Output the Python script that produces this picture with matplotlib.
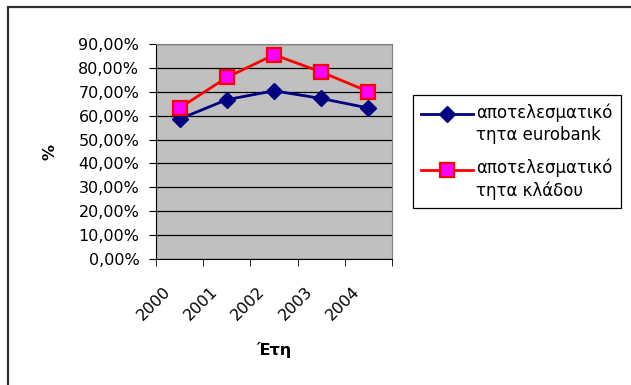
import matplotlib
matplotlib.use('Agg')
import matplotlib.pyplot as plt
from matplotlib.patches import Rectangle
from matplotlib.ticker import FuncFormatter, FixedLocator
from matplotlib.transforms import ScaledTranslation
from matplotlib.legend_handler import HandlerLine2D

plt.rcParams['font.family'] = ['DejaVu Sans']

years = ['2000', '2001', '2002', '2003', '2004']
eurobank = [58.6, 66.7, 70.4, 67.2, 63.2]
sector = [63.2, 76.0, 85.5, 78.3, 70.1]
labels = ['αποτελεσματικό\nτητα eurobank', 'αποτελεσματικό\nτητα κλάδου']

fs = 11.5


class FirstLineHandler(HandlerLine2D):
    # put the legend sample next to the first line of a two-line label
    def __init__(self, shift, **kw):
        super().__init__(**kw)
        self.shift = shift

    def create_artists(self, legend, orig_handle, xdescent, ydescent,
                       width, height, fontsize, trans):
        return super().create_artists(legend, orig_handle, xdescent,
                                      ydescent - 2 * self.shift, width, height,
                                      fontsize, trans)


fig = plt.figure(figsize=(6.31, 3.85), dpi=100)
W, H = 631, 385

# chart frame (only top and left edges fall inside the image)
fig.patches.append(Rectangle((8 / W, -0.05), 1.1, 1.05 - 7 / H,
                             transform=fig.transFigure, fill=False,
                             edgecolor='#303030', linewidth=1.6))

ax = fig.add_axes([156 / W, 1 - 259 / H, (392 - 156) / W, (259 - 44) / H])
ax.set_facecolor('#C0C0C0')

x = list(range(len(years)))
l1, = ax.plot(x, eurobank, color='#000080', linewidth=2, marker='D', markersize=8.5,
              markerfacecolor='#000080', markeredgecolor='#000080', label=labels[0])
l2, = ax.plot(x, sector, color='#FF0000', linewidth=2, marker='s', markersize=9.5,
              markerfacecolor='#FF00FF', markeredgecolor='#FF0000', markeredgewidth=1.6,
              label=labels[1])

ax.set_xlim(-0.5, len(years) - 0.5)
ax.set_ylim(0, 90)
ax.set_yticks(range(0, 91, 10))
ax.yaxis.set_major_formatter(FuncFormatter(lambda v, p: f'{v:.2f}%'.replace('.', ',')))
ax.grid(axis='y', color='black', linewidth=0.9)
ax.set_axisbelow(True)

ax.set_xticks(x)
ax.set_xticklabels(years, rotation=45, ha='right', va='bottom', rotation_mode='anchor')
ax.xaxis.set_minor_locator(FixedLocator([i - 0.5 for i in range(len(years) + 1)]))
ax.tick_params(axis='x', which='major', length=0, pad=28)
ax.tick_params(axis='x', which='minor', length=5, direction='out', color='black')
ax.tick_params(axis='y', length=5, direction='out', color='black', pad=7)
ax.tick_params(labelsize=fs)

# nudge the slanted year labels a little to the left
nudge = ScaledTranslation(-6 / 100, 3 / 100, fig.dpi_scale_trans)
for tick in ax.xaxis.get_major_ticks():
    tick.label1.set_transform(tick.label1.get_transform() + nudge)

for side in ('top', 'right'):
    ax.spines[side].set_color('#808080')
ax.spines['left'].set_color('black')
ax.spines['bottom'].set_color('black')

ax.set_ylabel('%', fontsize=fs, fontweight='bold', labelpad=15)
ax.set_xlabel('Έτη', fontsize=fs, fontweight='bold', labelpad=13)

leg = ax.legend(handles=[l1, l2], loc='upper left', bbox_to_anchor=(413 / W, 1 - 95 / H),
                bbox_transform=fig.transFigure, fontsize=12, frameon=True,
                fancybox=False, edgecolor='black', framealpha=1,
                handlelength=3.1, handletextpad=0.2, borderpad=0.5,
                labelspacing=0.85, borderaxespad=0,
                handler_map={l1: FirstLineHandler(7.5), l2: FirstLineHandler(7.5)})
leg.get_frame().set_linewidth(0.9)
for t in leg.get_texts():
    t.set_linespacing(1.3)

fig.savefig('out.png', dpi=100)
